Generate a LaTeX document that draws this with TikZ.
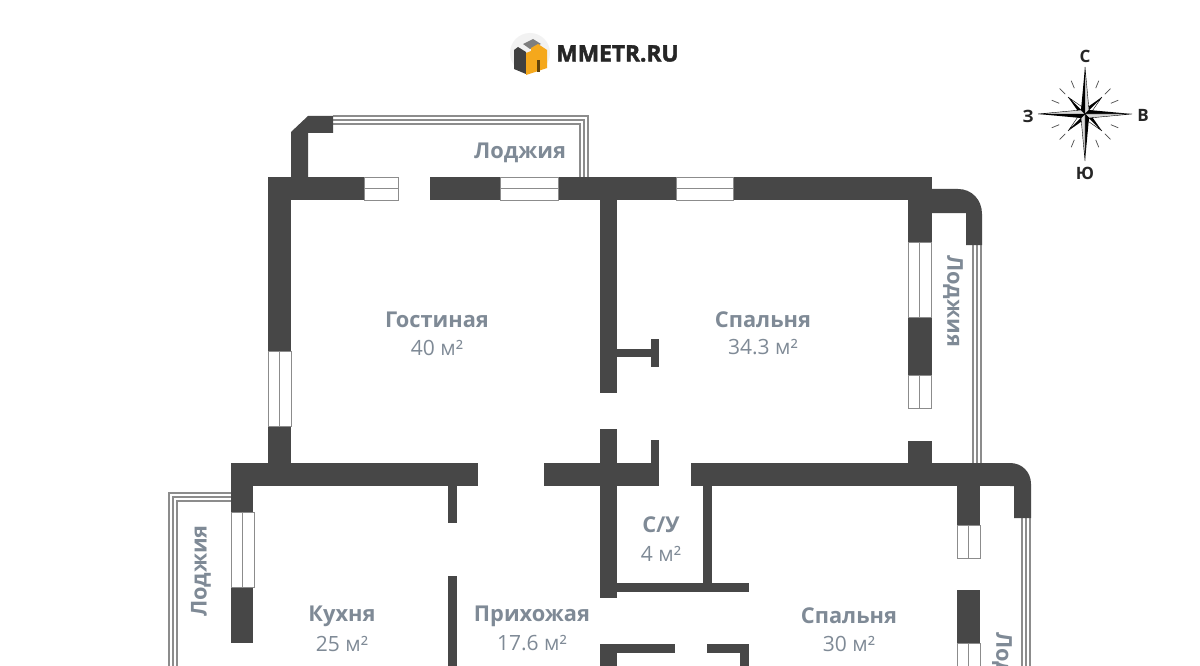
\documentclass[tikz,border=0pt]{standalone}
\usepackage{fontspec}
\setmainfont{Open Sans}
\newfontfamily\logofont[FakeBold=2]{Open Sans}
\usetikzlibrary{positioning}
\definecolor{wallgray}{HTML}{474747}
\definecolor{linegray}{HTML}{8C8C8C}
\definecolor{labelgray}{HTML}{7F8A96}
\definecolor{logoorange}{HTML}{F5A81C}
\tikzset{
	wall/.style={fill=wallgray},
	windowbox/.style={draw=linegray,line width=.7pt,fill=white},
	windowbar/.style={draw=linegray,line width=1.2pt},
	loggialine/.style={draw=linegray,line width=1.2pt},
	roomname/.style={text=labelgray,font=\fontsize{21.8}{24}\selectfont\bfseries,inner sep=0pt},
	roomarea/.style={text=labelgray,font=\fontsize{21}{24}\selectfont,inner sep=0pt},
	compassletter/.style={text=black!85,font=\fontsize{17}{18}\selectfont\bfseries,inner sep=0pt}
}
\begin{document}
\begin{tikzpicture}[x=1pt,y=-1pt]
		\clip (0,0) rectangle (1200,666);
		\fill[white] (0,0) rectangle (1200,666);
		% loggia rails
		\foreach \s in {0,4,8}{
			\draw[loggialine] (333,116+\s) -- (588-\s,116+\s) -- (588-\s,177);
			\draw[loggialine] (973+\s,245) -- (973+\s,463);
			\draw[loggialine] (1022+\s,518) -- (1022+\s,666);
			\draw[loggialine] (231,493+\s) -- (169+\s,493+\s) -- (169+\s,666);
		}
		% walls
		\fill[wall] (291,177) -- (291,132) -- (308,116) -- (333,116) -- (333,133) -- (308,133) -- (308,177) -- cycle;
		\fill[wall] (268,177) rectangle (398,200);
		\fill[wall] (430,177) rectangle (932,200);
		\fill[wall] (268,177) rectangle (291,351);
		\fill[wall] (268,426) rectangle (291,463);
		\fill[wall] (231,463) rectangle (478,486);
		\fill[wall] (544,463) rectangle (659,486);
		\fill[wall] (691,463) rectangle (1010,486);
		\fill[wall] (1010,463) .. controls (1022,463) and (1031,472) .. (1031,484) -- (1031,518) -- (1014,518) -- (1014,486) -- (1010,486) -- cycle;
		\fill[wall] (600,200) rectangle (617,393);
		\fill[wall] (617,349) rectangle (651,357);
		\fill[wall] (651,339) rectangle (659,367);
		\fill[wall] (600,429) rectangle (617,598);
		\fill[wall] (651,440) rectangle (659,463);
		\fill[wall] (703,486) rectangle (712,583);
		\fill[wall] (617,583) rectangle (749,592);
		\fill[wall] (600,644) rectangle (617,666);
		\fill[wall] (600,644) rectangle (675,653);
		\fill[wall] (707,644) rectangle (749,653);
		\fill[wall] (740,644) rectangle (749,666);
		\fill[wall] (448,486) rectangle (457,523);
		\fill[wall] (448,576) rectangle (457,666);
		\fill[wall] (231,486) rectangle (253,512);
		\fill[wall] (231,587) rectangle (253,643);
		\fill[wall] (908,200) rectangle (932,242);
		\fill[wall] (908,317) rectangle (932,375);
		\fill[wall] (908,441) rectangle (932,463);
		\fill[wall] (932,189) -- (958,189) .. controls (972,189) and (982,200) .. (982,214) -- (982,245) -- (966,245) -- (966,213) -- (932,213) -- cycle;
		\fill[wall] (957,486) rectangle (980,525);
		\fill[wall] (957,590) rectangle (980,643);
		% windows
		\foreach \xa/\xb in {364/398,500/558,676/733}{
			\draw[windowbox] (\xa,177) rectangle (\xb,200);
			\draw[windowbar] (\xa,188.5) -- (\xb,188.5);
		}
		\foreach \xa/\ya/\yb in {268/351/426,231/512/587,908/242/317,908/375/408,957/525/558,957/643/680}{
			\draw[windowbox] (\xa,\ya) rectangle ++(23,\yb-\ya);
			\draw[windowbar] (\xa+11.5,\ya) -- (\xa+11.5,\yb);
		}
		% room labels
		\node[roomname] (livingname) at (437,320) {Гостиная};
		\node[roomarea] (livingarea) at (437,347.5) {40 м²};
		\node[roomname] (bednorthname) at (763,320) {Спальня};
		\node[roomarea] (bednortharea) at (763,347.5) {34.3 м²};
		\node[roomname] (bathname) at (661,525) {С/У};
		\node[roomarea] (batharea) at (661,553.5) {4 м²};
		\node[roomname] (kitchenname) at (342,616) {Кухня};
		\node[roomarea] (kitchenarea) at (342,643.5) {25 м²};
		\node[roomname] (hallname) at (532,616) {Прихожая};
		\node[roomarea] (hallarea) at (532,643.5) {17.6 м²};
		\node[roomname] (bedeastname) at (849,616) {Спальня};
		\node[roomarea] (bedeastarea) at (849,643.5) {30 м²};
		\node[roomname] (loggianorth) at (520,153) {Лоджия};
		\node[roomname,rotate=-90] (loggiaeast) at (953,301) {Лоджия};
		\node[roomname,rotate=90] (loggiawest) at (201,571) {Лоджия};
		\node[roomname,rotate=-90] (loggiasouth) at (1002,678) {Лоджия};
		% logo
		\fill[black!5] (530,53) circle (20);
		\fill[wallgray!90!black] (514,50) -- (518,47) -- (526,52) -- (526,74) -- (514,69) -- cycle;
		\fill[wallgray!70] (523,44) -- (533,39) -- (541,44) -- (530,49) -- cycle;
		\fill[logoorange] (526,53) -- (531,51) -- (531,48) -- (538,44) -- (547,50) -- (547,68) -- (526,75) -- cycle;
		\fill[black!60!logoorange] (536.5,60) rectangle (539.5,72);
		\node[font=\fontsize{22.7}{24}\logofont\bfseries,text=black!85,inner sep=0pt] (logotext) at (617.5,53.5) {MMETR.RU};
		% compass
		\foreach \a in {22.5,45,67.5,112.5,135,157.5,202.5,225,247.5,292.5,315,337.5}{
			\draw[black!70,line width=.7pt] (\a:28) ++(1085,114) -- ++(\a:8);
		}
		\begin{scope}[shift={(1085,114)}]
			\foreach \a in {45,135,225,315}{
				\fill[black,rotate=\a] (0,0) -- (24,0) -- (4,-3.5) -- cycle;
				\fill[white,draw=black,line width=.4pt,rotate=\a] (0,0) -- (24,0) -- (4,3.5) -- cycle;
			}
			\foreach \a in {0,90,180,270}{
				\fill[black,rotate=\a] (0,0) -- (47,0) -- (4,-4) -- cycle;
				\fill[black!15,draw=black,line width=.4pt,rotate=\a] (0,0) -- (47,0) -- (4,4) -- cycle;
			}
		\end{scope}
		\node[compassletter] (north) at (1085,56) {С};
		\node[compassletter] (east) at (1143,115) {В};
		\node[compassletter] (south) at (1085,173) {Ю};
		\node[compassletter] (west) at (1028,116) {З};
\end{tikzpicture}
\end{document}
